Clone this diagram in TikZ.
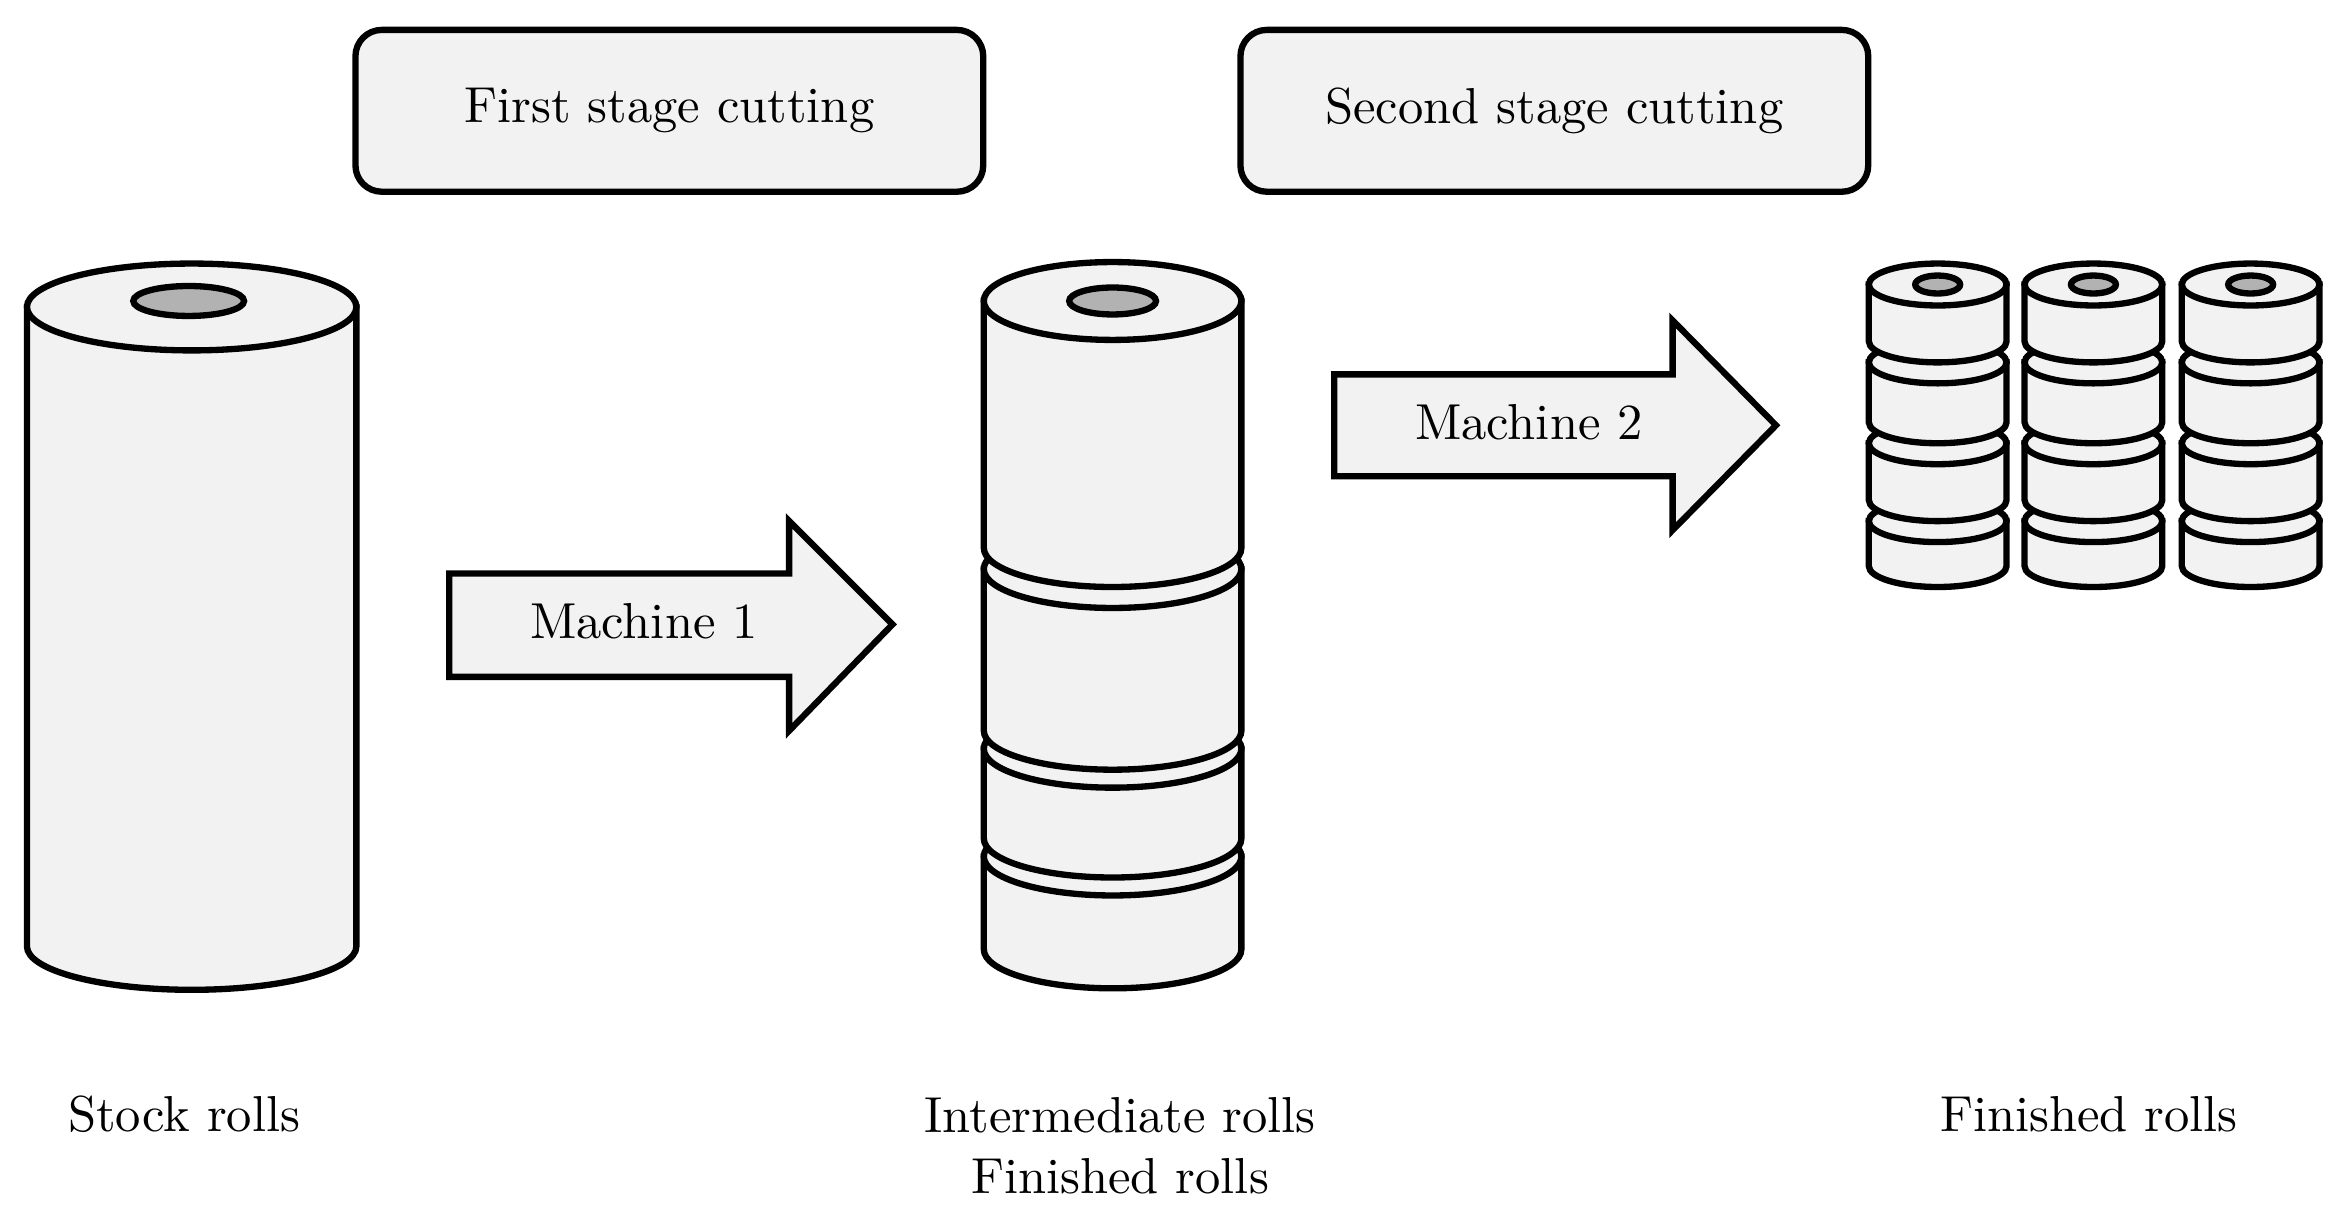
\documentclass[tikz,border=0pt]{standalone}
\begin{document}
\begin{tikzpicture}[x=0.01cm,y=-0.01cm,line width=1.2pt,
  lbl/.style={font=\fontsize{9.6}{11.5}\selectfont,align=center},
  box/.style={draw,fill=gray!10,rounded corners=5pt,minimum width=4.19cm,minimum height=1.08cm,font=\fontsize{9.6}{11.5}\selectfont},
  arr/.style={draw,fill=gray!10,line width=1.2pt}]
\useasboundingbox (0,0) rectangle (1568,809);
% cylinder macro: cx, half width, top center y, bottom center y, ry
\newcommand{\cyl}[5]{%
  \filldraw[fill=gray!10] (#1-#2,#3) -- (#1-#2,#4) arc[start angle=180,end angle=360,x radius=#2,y radius=-#5] -- (#1+#2,#3) -- cycle;
  \filldraw[fill=gray!10] (#1,#3) ellipse[x radius=#2,y radius=#5];}
\newcommand{\hole}[4]{\filldraw[fill=gray!60] (#1,#2) ellipse[x radius=#3,y radius=#4];}
% stock roll
\cyl{128}{110}{205}{632}{29}
\hole{126}{201}{37}{10}
% intermediate roll
\cyl{743}{86}{572}{634}{26}
\cyl{743}{86}{500}{560}{26}
\cyl{743}{86}{380}{488}{26}
\cyl{743}{86}{201}{366}{26}
\hole{743}{201}{29}{9}
% finished rolls
\foreach \c in {1294,1398,1503}{
  \cyl{\c}{46}{348}{378}{14}
  \cyl{\c}{46}{296}{334}{14}
  \cyl{\c}{46}{242}{282}{14}
  \cyl{\c}{46}{190}{228}{14}
  \hole{\c}{190}{15}{6}
}
% arrows
\draw[arr] (300,383) -- (527,383) -- (527,348) -- (596,417) -- (527,488) -- (527,452) -- (300,452) -- cycle;
\node[lbl] (m1) at (430,415) {Machine 1};
\draw[arr] (891,250) -- (1117,250) -- (1117,214) -- (1186,284) -- (1117,354) -- (1117,318) -- (891,318) -- cycle;
\node[lbl] (m2) at (1021,282) {Machine 2};
% boxes
\node[box] (b1) at (447,74) {First stage cutting};
\node[box] (b2) at (1038,74) {Second stage cutting};
% labels
\node[lbl] (l1) at (123,744) {Stock rolls};
\node[lbl] (l2) at (748,765) {Intermediate rolls\\Finished rolls};
\node[lbl] (l3) at (1395,744) {Finished rolls};
\end{tikzpicture}
\end{document}
